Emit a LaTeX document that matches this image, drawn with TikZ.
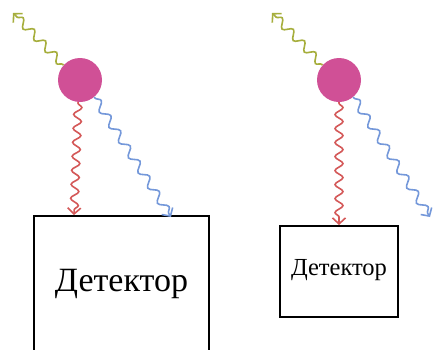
\documentclass[tikz,border=0pt]{standalone}
\usepackage{fontspec}
\setmainfont{Liberation Serif}
\usetikzlibrary{decorations.pathmorphing,arrows.meta}
\definecolor{cball}{HTML}{D05096}
\definecolor{cgreen}{HTML}{A6AE3C}
\definecolor{cred}{HTML}{D45858}
\definecolor{cblue}{HTML}{7498DA}
\tikzset{
  ball/.style={circle,fill=cball,minimum size=44pt,inner sep=0pt},
  detector/.style={draw=black,line width=1.4pt,inner sep=0pt},
  photon/.style={line width=1.6pt,decorate,
    decoration={snake,amplitude=4pt,segment length=#1,pre length=1pt,post length=4pt},
    -{Straight Barb[length=6pt,width=13pt]}},
}
\begin{document}
\begin{tikzpicture}[x=1pt,y=-1pt]
\clip (0,0) rectangle (437,349);
\fill[white] (0,0) rectangle (437,349);
% left
\node[ball] (a1) at (80,80) {};
\node[detector,minimum width=175pt,minimum height=140pt] (d1) at (121.5,286) {};
\node (t1) at (121.5,284) {\fontsize{34}{38}\selectfont Детектор};
\coordinate (g1) at (13,13);
\coordinate (r1) at (74,215);
\coordinate (b1) at (171,217);
\draw[photon=16pt,cgreen] (a1.138) -- (g1);
\draw[photon=14pt,cred] (a1.-95) -- (r1);
\draw[photon=18pt,cblue] (a1.-50) -- (b1);
% right
\node[ball] (a2) at (339,80) {};
\node[detector,minimum width=118pt,minimum height=91pt] (d2) at (339,271.5) {};
\node (t2) at (339,270) {\fontsize{24.5}{28}\selectfont Детектор};
\coordinate (g2) at (272,13);
\coordinate (r2) at (339,225);
\coordinate (b2) at (430,217);
\draw[photon=16pt,cgreen] (a2.138) -- (g2);
\draw[photon=14pt,cred] (a2.south) -- (r2);
\draw[photon=18pt,cblue] (a2.-50) -- (b2);
\end{tikzpicture}
\end{document}
